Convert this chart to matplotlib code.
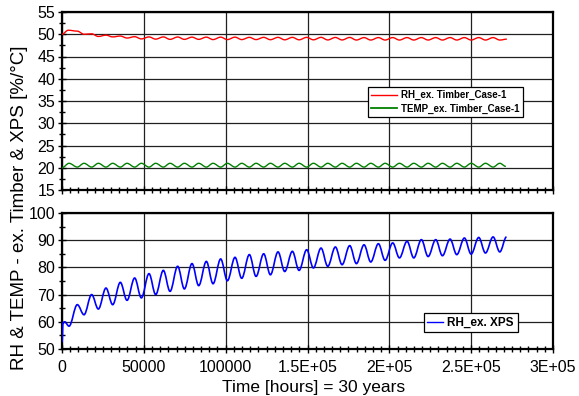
import matplotlib
matplotlib.use("Agg")
import matplotlib.pyplot as plt
from matplotlib.path import Path
from matplotlib.patches import PathPatch
from matplotlib.lines import Line2D
from matplotlib.ticker import MultipleLocator

plt.rcParams['font.family'] = ['Liberation Sans', 'DejaVu Sans']

# ---- data (hours / value) ----
# times of the yearly extremes (RH peaks / RH troughs)
peak_hours = [9350, 18110, 26870, 35630, 44390, 53150, 61910, 70670, 79430, 88190,
              96950, 105710, 114470, 123230, 131990, 140750, 149510, 158270, 167030, 175790,
              184550, 193310, 202070, 210830, 219590, 228350, 237110, 245870, 254630, 263390]
trough_hours = [13450, 22210, 30970, 39730, 48490, 57250, 66010, 74770, 83530, 92290,
                101050, 109810, 118570, 127330, 136090, 144850, 153610, 162370, 171130, 179890,
                188650, 197410, 206170, 214930, 223690, 232450, 241210, 249970, 258730, 267490]

# RH_ex. XPS (lower panel)
xps_start_t = [0, 600, 1600, 4300]
xps_start_v = [52.5, 59.6, 60.0, 58.4]
xps_peaks = [66.3, 70.0, 72.4, 74.5, 76.1, 77.7, 78.9, 80.4, 81.4, 82.2,
             83.1, 83.7, 84.7, 85.0, 85.7, 85.9, 86.5, 87.1, 87.5, 88.0,
             88.3, 88.7, 89.0, 89.6, 90.2, 90.2, 90.4, 90.8, 91.0, 91.2]
xps_troughs = [62.6, 64.7, 66.3, 67.9, 68.8, 70.0, 71.2, 72.1, 73.3, 74.0,
               75.1, 76.0, 76.7, 77.3, 78.5, 78.9, 79.8, 80.4, 81.0, 81.4,
               82.0, 82.6, 83.5, 83.5, 84.0, 84.3, 84.7, 84.9, 85.3, 85.7]
xps_end = (271600, 91.2)

# RH_ex. Timber_Case-1 (upper panel, red)
rh_start_t = [0, 3800]
rh_start_v = [50.0, 50.9]
rh_peaks = [50.7, 50.1, 49.8, 49.6, 49.45, 49.4, 49.4, 49.38, 49.35, 49.35,
            49.35, 49.35, 49.3, 49.3, 49.3, 49.3, 49.3, 49.3, 49.28, 49.28,
            49.25, 49.25, 49.25, 49.25, 49.25, 49.25, 49.25, 49.25, 49.25, 49.25]
rh_troughs = [50.0, 49.5, 49.4, 49.15, 48.95, 48.9, 48.85, 48.85, 48.85, 48.8,
              48.8, 48.8, 48.8, 48.78, 48.75, 48.75, 48.75, 48.72, 48.72, 48.7,
              48.7, 48.7, 48.7, 48.7, 48.7, 48.7, 48.7, 48.7, 48.7, 48.7]
rh_end = (271800, 48.9)

# TEMP_ex. Timber_Case-1 (upper panel, green) - low when RH peaks, high when RH troughs
temp_start_t = [0, 4300]
temp_start_v = [20.0, 21.0]
temp_at_rh_peak = [20.15] * 30
temp_at_rh_trough = [21.0] * 30
temp_end = (271200, 20.3)

x_ticks = [0, 50000, 100000, 150000, 200000, 250000, 300000]
x_tick_labels = ['0', '50000', '100000', '1.5E+05', '2E+05', '2.5E+05', '3E+05']

labels_top = ['RH_ex. Timber_Case-1', 'TEMP_ex. Timber_Case-1']
label_bottom = 'RH_ex. XPS'


def series(start_t, start_v, at_peak, at_trough, end):
    t = list(start_t)
    v = list(start_v)
    for i in range(len(peak_hours)):
        t += [peak_hours[i], trough_hours[i]]
        v += [at_peak[i], at_trough[i]]
    t.append(end[0])
    v.append(end[1])
    return t, v


def smooth_line(ax, t, v, color, lw):
    # smoothed line (bezier segments with flat tangents at each point)
    verts = [(t[0], v[0])]
    codes = [Path.MOVETO]
    for i in range(1, len(t)):
        dt = t[i] - t[i - 1]
        verts += [(t[i - 1] + 0.36 * dt, v[i - 1]), (t[i] - 0.36 * dt, v[i]), (t[i], v[i])]
        codes += [Path.CURVE4] * 3
    patch = PathPatch(Path(verts, codes), facecolor='none', edgecolor=color,
                      lw=lw, transform=ax.transData, zorder=3)
    ax.add_patch(patch)


def style_axes(ax):
    ax.set_xlim(0, 300000)
    ax.set_xticks(x_ticks)
    ax.xaxis.set_minor_locator(MultipleLocator(5000))
    ax.grid(True, which='major', color='#202020', lw=0.9)
    ax.tick_params(which='both', direction='inout', top=False, right=False,
                   labelsize=11.5, color='black')
    ax.tick_params(which='major', length=6, width=1.0, pad=2)
    ax.tick_params(which='minor', length=5, width=1.0)
    for s in ax.spines.values():
        s.set_linewidth(1.6)
        s.set_color('black')


fig = plt.figure(figsize=(5.79, 3.96), dpi=100)
ax1 = fig.add_axes([62 / 579, 1 - 190 / 396, 491 / 579, 178 / 396])
ax2 = fig.add_axes([62 / 579, 1 - 349 / 396, 491 / 579, 136 / 396])

# upper panel
t, v = series(rh_start_t, rh_start_v, rh_peaks, rh_troughs, rh_end)
smooth_line(ax1, t, v, '#ff0000', 1.0)
t, v = series(temp_start_t, temp_start_v, temp_at_rh_peak, temp_at_rh_trough, temp_end)
smooth_line(ax1, t, v, '#008000', 1.0)
ax1.set_ylim(15, 55)
ax1.yaxis.set_major_locator(MultipleLocator(5))
ax1.yaxis.set_minor_locator(MultipleLocator(2.5))
style_axes(ax1)
ax1.set_xticklabels([])

h1 = [Line2D([], [], color='#ff0000', lw=1.0), Line2D([], [], color='#008000', lw=1.3)]
leg1 = ax1.legend(h1, labels_top, loc='upper left', bbox_to_anchor=(0.624, 0.577),
                  borderaxespad=0, fancybox=False, framealpha=1, edgecolor='black',
                  prop={'weight': 'bold', 'size': 7}, handlelength=2.6,
                  handletextpad=0.5, borderpad=0.3, labelspacing=0.35)
leg1.get_frame().set_linewidth(0.9)

# lower panel
t, v = series(xps_start_t, xps_start_v, xps_peaks, xps_troughs, xps_end)
smooth_line(ax2, t, v, '#0000ff', 1.2)
ax2.set_ylim(50, 100)
ax2.yaxis.set_major_locator(MultipleLocator(10))
ax2.yaxis.set_minor_locator(MultipleLocator(5))
style_axes(ax2)
ax2.set_xticklabels(x_tick_labels)
ax2.tick_params(axis='x', pad=5)
ax2.set_xlabel('Time [hours] = 30 years', fontsize=12.5, labelpad=1)
ax2.xaxis.set_label_coords(0.512, -0.225)

h2 = [Line2D([], [], color='#0000ff', lw=1.0)]
leg2 = ax2.legend(h2, [label_bottom], loc='upper left', bbox_to_anchor=(0.737, 0.262),
                  borderaxespad=0, fancybox=False, framealpha=1, edgecolor='black',
                  prop={'weight': 'bold', 'size': 8.5}, handlelength=1.3,
                  handletextpad=0.4, borderpad=0.3)
leg2.get_frame().set_linewidth(0.9)

fig.text(20 / 579, 1 - 208 / 396, 'RH & TEMP - ex. Timber & XPS [%/°C]', rotation=90,
         ha='center', va='center', fontsize=13.5)

fig.savefig('out.png', dpi=100)
